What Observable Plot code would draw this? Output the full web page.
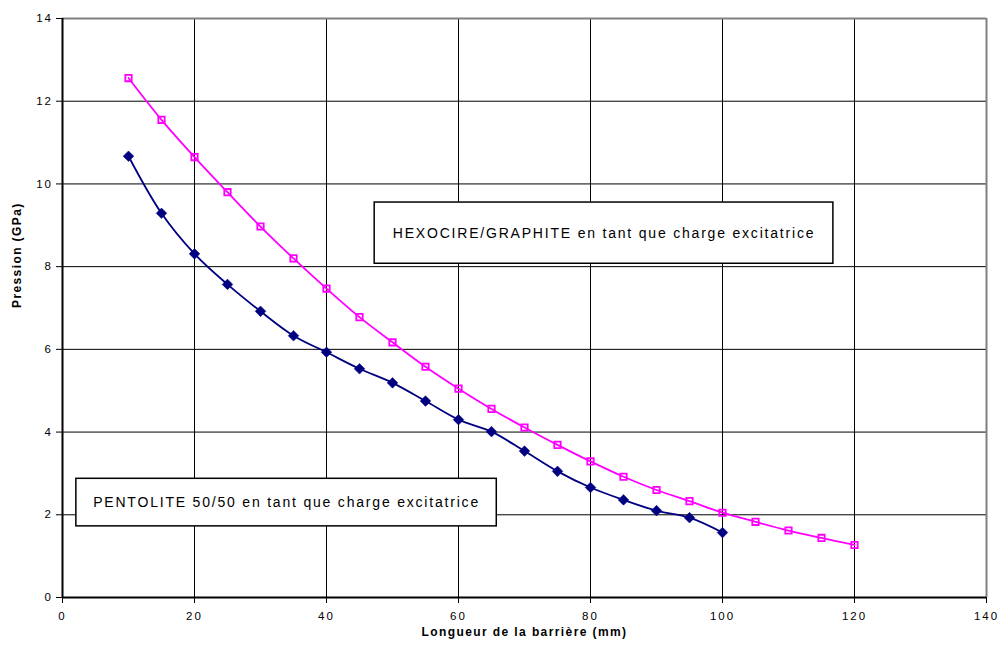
<!DOCTYPE html>
<html>
<head>
<meta charset="utf-8">
<script src="https://cdn.jsdelivr.net/npm/d3@7"></script>
<script src="https://cdn.jsdelivr.net/npm/@observablehq/plot@0.6"></script>
<style>
  html, body { margin: 0; padding: 0; background: #fff; }
</style>
</head>
<body>
<div id="chart"></div>
<script>
const longueurs = [10,15,20,25,30,35,40,45,50,55,60,65,70,75,80,85,90,95,100,105,110,115,120];
const hexocire = [12.56,11.55,10.65,9.80,8.97,8.20,7.47,6.78,6.17,5.58,5.05,4.56,4.11,3.69,3.29,2.92,2.60,2.33,2.05,1.83,1.62,1.44,1.27];
const pentolite = [10.67,9.29,8.31,7.57,6.92,6.33,5.93,5.53,5.19,4.75,4.30,4.01,3.54,3.05,2.66,2.36,2.10,1.93,1.57];
const xTicks = [0,20,40,60,80,100,120,140];
const yTicks = [0,2,4,6,8,10,12,14];
const annotations = [
  {label: "HEXOCIRE/GRAPHITE en tant que charge excitatrice", x1: 47.3, x2: 116.8, y1: 8.07, y2: 9.55},
  {label: "PENTOLITE 50/50 en tant que charge excitatrice", x1: 2.1, x2: 65.8, y1: 1.72, y2: 2.87}
];
const xTitle = "Longueur de la barrière (mm)";
const yTitle = "Pression (GPa)";

const hexData = hexocire.map((v, i) => ({x: longueurs[i], y: v}));
const penData = pentolite.map((v, i) => ({x: longueurs[i], y: v}));

const chart = Plot.plot({
  width: 998,
  height: 648,
  marginLeft: 62,
  marginRight: 12,
  marginTop: 18,
  marginBottom: 51,
  x: {domain: [0, 140]},
  y: {domain: [0, 14]},
  style: {fontFamily: "'Liberation Sans', Arial, sans-serif", fontSize: "11.5px", color: "#000", background: "#fff"},
  marks: [
    Plot.ruleX(xTicks.filter(d => d > 0 && d < 140), {stroke: "#000", strokeWidth: 1}),
    Plot.ruleY(yTicks.filter(d => d > 0 && d < 14), {stroke: "#000", strokeWidth: 1}),
    Plot.ruleY([14], {stroke: "#808080", strokeWidth: 2}),
    Plot.ruleX([140], {stroke: "#808080", strokeWidth: 2}),
    Plot.rect(annotations, {x1: "x1", x2: "x2", y1: "y1", y2: "y2", fill: "#fff", stroke: "#000", strokeWidth: 1.5}),
    Plot.text(annotations, {x: d => (d.x1 + d.x2) / 2, y: d => (d.y1 + d.y2) / 2, text: "label", fontSize: 14, fill: "#000"}),
    Plot.line(hexData, {x: "x", y: "y", stroke: "#ff00ff", strokeWidth: 1.8, curve: "catmull-rom"}),
    Plot.line(penData, {x: "x", y: "y", stroke: "#000080", strokeWidth: 1.8, curve: "catmull-rom"}),
    Plot.dot(hexData, {x: "x", y: "y", symbol: "square", r: 3.6, stroke: "#ff00ff", strokeWidth: 1.8, fill: "#fff", fillOpacity: 0}),
    Plot.dot(penData, {x: "x", y: "y", symbol: "diamond2", r: 4.8, fill: "#000080", stroke: "#000080", strokeWidth: 0.5}),
    Plot.axisX({ticks: xTicks, tickSize: 6, tickPadding: 8, label: null, stroke: "#000"}),
    Plot.axisY({ticks: yTicks, tickSize: 6, tickPadding: 3.5, label: null, stroke: "#000"}),
    Plot.ruleX([0], {stroke: "#000", strokeWidth: 2}),
    Plot.ruleY([0], {stroke: "#000", strokeWidth: 2}),
    Plot.text([xTitle], {frameAnchor: "bottom", dy: 38, fontWeight: "bold", fontSize: 12}),
    Plot.text([yTitle], {frameAnchor: "left", dx: -45, rotate: -90, fontWeight: "bold", fontSize: 12})
  ]
});
document.getElementById("chart").appendChild(chart);

// Widen letter spacing to match the stretched text rendering of the original
const labels = new Set(annotations.map(d => d.label));
d3.select(chart).selectAll("text").each(function() {
  const t = this.textContent;
  let ls = "2px";
  if (labels.has(t)) ls = "1.8px";
  else if (t === xTitle || t === yTitle) ls = "1.4px";
  this.style.letterSpacing = ls;
});
</script>
</body>
</html>
